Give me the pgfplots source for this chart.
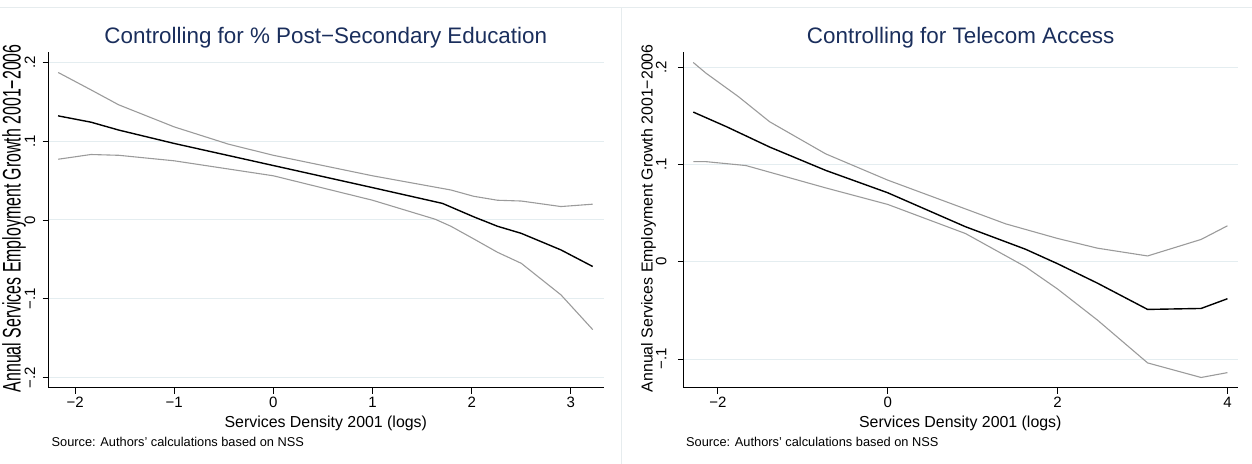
\documentclass[border=0pt]{standalone}
\usepackage{fontspec}
\setmainfont{Liberation Sans}
\usepackage{pgfplots}
\pgfplotsset{compat=1.18}

\definecolor{titlenavy}{RGB}{26,46,92}
\definecolor{gridblue}{RGB}{228,237,240}
\definecolor{panelline}{RGB}{230,236,238}
\definecolor{cigray}{RGB}{155,155,155}

\newcommand{\ticksize}{\fontsize{15bp}{17bp}\selectfont}
\newcommand{\labsize}{\fontsize{15.9bp}{18bp}\selectfont}
\newcommand{\titlesize}{\fontsize{22.4bp}{24bp}\selectfont}
\newcommand{\notesize}{\fontsize{12.8bp}{14bp}\selectfont}

\pgfplotsset{
  stata/.style={
    scale only axis,
    width=555bp, height=335.7bp,
    anchor=south west,
    axis x line=bottom, axis y line=left,
    axis line style={black, line width=0.9bp, -},
    tick align=outside,
    major tick length=6bp,
    tick style={black, line width=0.9bp},
    ymajorgrids,
    grid style={gridblue, line width=1bp},
    xticklabel style={font=\ticksize},
    clip=false,
  },
  ci/.style={cigray, line width=1.1bp},
  fit/.style={black, line width=1.4bp},
}

\begin{document}
\begin{tikzpicture}[x=1bp, y=1bp]
\useasboundingbox (0,0) rectangle (1252,464);

% panel frames
\draw[panelline, line width=1bp] (0,456) -- (1252,456);
\draw[panelline, line width=1bp] (621,0) -- (621,456);

% ---------------- left panel ----------------
\begin{axis}[stata,
  at={(48.6bp,76.3bp)},
  xmin=-2.267, xmax=3.33,
  ymin=-0.2127, ymax=0.213,
  xtick={-2,-1,0,1,2,3},
  xticklabels={−2,−1,0,1,2,3},
  ytick={-0.2,-0.1,0,0.1,0.2},
  yticklabels={−.2,−.1,0,.1,.2},
  yticklabel style={font=\ticksize, xshift=-7.6bp, rotate=90, anchor=base, inner sep=0pt},
]
\addplot[ci] coordinates {
(-2.17,0.187) (-1.84,0.165) (-1.56,0.146) (-1.0,0.118) (-0.45,0.096)
(0,0.082) (1,0.056) (1.79,0.038) (2.02,0.030) (2.26,0.025)
(2.5,0.024) (2.9,0.017) (3.22,0.020)};
\addplot[ci] coordinates {
(-2.17,0.077) (-1.84,0.083) (-1.56,0.082) (-1.0,0.075) (0,0.056)
(1,0.025) (1.63,0.001) (1.79,-0.008) (2.02,-0.024) (2.26,-0.041)
(2.5,-0.055) (2.9,-0.095) (3.22,-0.139)};
\addplot[fit] coordinates {
(-2.171,0.132) (-1.84,0.124) (-1.56,0.114) (-1.0,0.097) (0,0.069)
(1,0.041) (1.705,0.021) (2.02,0.004) (2.26,-0.008) (2.5,-0.017)
(2.9,-0.038) (3.22,-0.059)};
\end{axis}

% ---------------- right panel ----------------
\begin{axis}[stata,
  at={(683.9bp,76.3bp)},
  width=553.7bp,
  xmin=-2.40, xmax=4.12,
  ymin=-0.1295, ymax=0.2158,
  xtick={-2,0,2,4},
  xticklabels={−2,0,2,4},
  ytick={-0.1,0,0.1,0.2},
  yticklabels={−.1,0,.1,.2},
  yticklabel style={font=\ticksize, xshift=-11.5bp, rotate=90, anchor=base, inner sep=0pt},
]
\addplot[ci] coordinates {
(-2.29,0.205) (-2.14,0.194) (-1.76,0.170) (-1.39,0.144) (-0.73,0.111)
(0,0.084) (0.68,0.062) (1.39,0.039) (2.0,0.024) (2.47,0.014)
(3.06,0.006) (3.69,0.023) (4.0,0.037)};
\addplot[ci] coordinates {
(-2.29,0.103) (-2.14,0.103) (-1.67,0.099) (-0.73,0.076) (0,0.059)
(0.917,0.029) (1.62,-0.005) (2.0,-0.028) (2.47,-0.060) (3.06,-0.104)
(3.69,-0.119) (4.0,-0.114)};
\addplot[fit] coordinates {
(-2.29,0.154) (-1.90,0.139) (-1.39,0.118) (-0.73,0.094) (0,0.071)
(0.917,0.036) (1.62,0.013) (2.0,-0.002) (2.47,-0.022) (3.06,-0.049)
(3.69,-0.048) (4.0,-0.038)};
\end{axis}

% titles
\node[titlenavy, font=\titlesize, anchor=base] at (325.8,420.7) {Controlling for \% Post−Secondary Education};
\node[titlenavy, font=\titlesize, anchor=base] at (960.7,420.7) {Controlling for Telecom Access};

% x-axis titles
\node[font=\labsize, anchor=base] at (325.8,36.3) {Services Density 2001 (logs)};
\node[font=\labsize, anchor=base] at (960.3,36.3) {Services Density 2001 (logs)};

% y-axis titles; the left one is set taller, up to the page edge
\node[font=\labsize, rotate=90, yscale=1.6, anchor=base, inner sep=0pt] at (20.7,245.7) {Annual Services Employment Growth 2001−2006};
\node[font=\labsize, rotate=90, anchor=base, inner sep=0pt] at (652.7,245.7) {Annual Services Employment Growth 2001−2006};

% source notes
\node[font=\notesize, anchor=base west, inner sep=0pt] at (51.4,17.3) {Source: Authors’ calculations based on NSS};
\node[font=\notesize, anchor=base west, inner sep=0pt] at (685.9,17.3) {Source: Authors’ calculations based on NSS};
\end{tikzpicture}
\end{document}
